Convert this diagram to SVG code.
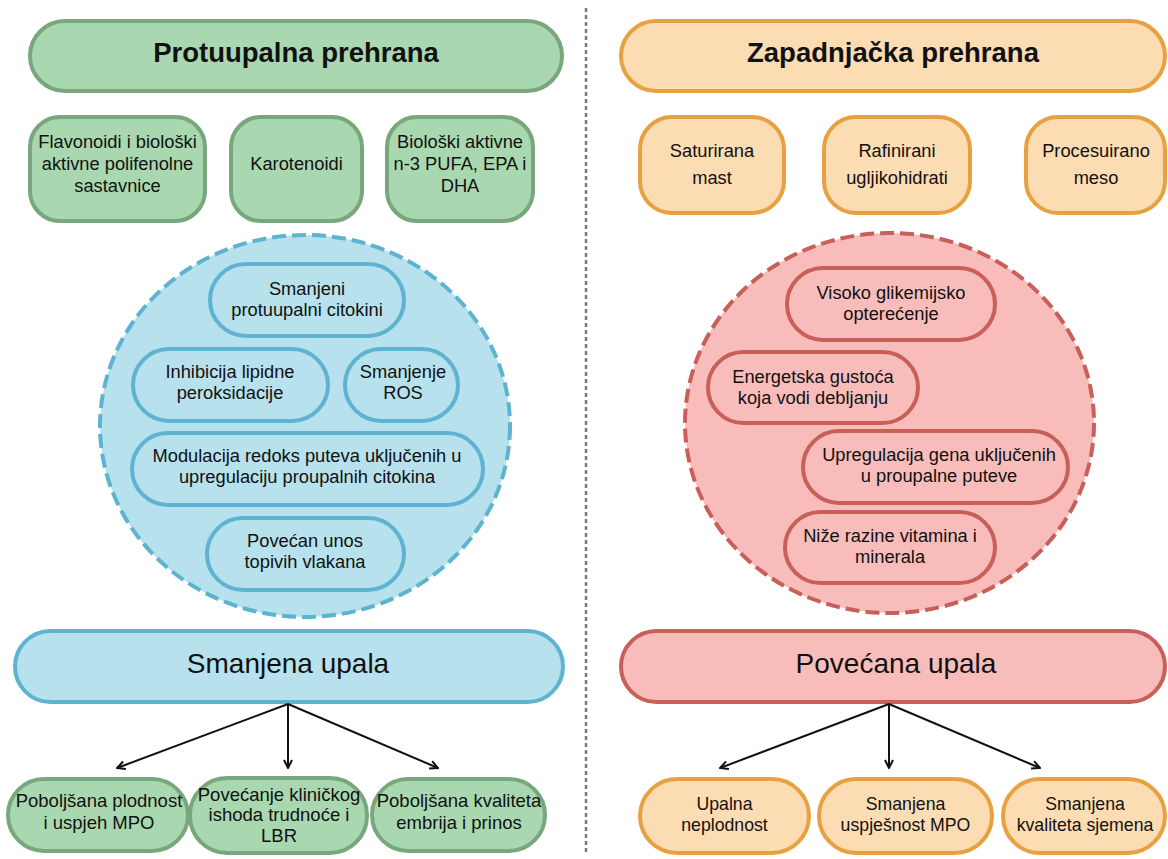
<svg xmlns="http://www.w3.org/2000/svg" width="1168" height="859" viewBox="0 0 1168 859">
<defs>
<style>
.t{font-family:"Liberation Sans",Arial,sans-serif;fill:#111;text-anchor:middle}
.h{font-weight:bold;font-size:27.5px}
.m{font-size:18.3px}
.s{font-size:17.7px}
.l{font-size:18.5px}
.big{font-size:28px}
.g{fill:#a9d8b0;stroke:#78a67d;stroke-width:4}
.o{fill:#fbdcb3;stroke:#e8a140;stroke-width:4}
.b{fill:#b7e1ed;stroke:#5db3d0;stroke-width:4}
.r{fill:#f8bdbb;stroke:#c95f59;stroke-width:4}
.d{stroke-dasharray:14 6}
.c{stroke:#111;stroke-width:2;fill:none}
</style>
<marker id="ah" viewBox="0 0 10 10" refX="9" refY="5" markerWidth="10" markerHeight="10" markerUnits="userSpaceOnUse" orient="auto">
<path d="M1,1 L9,5 L1,9" fill="none" stroke="#111" stroke-width="2"/>
</marker>
</defs>
<rect width="1168" height="859" fill="#fff"/>
<line x1="586" y1="8" x2="586" y2="855" stroke="#7a7a7a" stroke-width="2.5" stroke-dasharray="4 3"/>

<g id="title-left"><rect class="g" x="30" y="21" width="532" height="70" rx="35"/><text class="t h" x="296" y="62">Protuupalna prehrana</text></g>
<g id="title-right"><rect class="o" x="621" y="21" width="544" height="70" rx="35"/><text class="t h" x="893" y="62">Zapadnjačka prehrana</text></g>

<g id="flavonoidi"><rect class="g" x="30" y="117" width="175" height="104" rx="30"/><text class="t m"><tspan x="117.5" y="148">Flavonoidi i biološki</tspan><tspan x="117.5" y="170">aktivne polifenolne</tspan><tspan x="117.5" y="192">sastavnice</tspan></text></g>
<g id="karotenoidi"><rect class="g" x="231" y="117" width="131" height="104" rx="30"/><text class="t m" x="296.5" y="170">Karotenoidi</text></g>
<g id="pufa"><rect class="g" x="387" y="117" width="146" height="104" rx="30"/><text class="t m"><tspan x="460" y="148">Biološki aktivne</tspan><tspan x="460" y="170">n-3 PUFA, EPA i</tspan><tspan x="460" y="192">DHA</tspan></text></g>

<g id="saturirana"><rect class="o" x="640" y="117" width="144" height="96" rx="32"/><text class="t m"><tspan x="712" y="157">Saturirana</tspan><tspan x="712" y="184">mast</tspan></text></g>
<g id="rafinirani"><rect class="o" x="824" y="117" width="146" height="96" rx="32"/><text class="t m"><tspan x="897" y="157">Rafinirani</tspan><tspan x="897" y="184">ugljikohidrati</tspan></text></g>
<g id="procesuirano"><rect class="o" x="1026" y="117" width="139" height="96" rx="32"/><text class="t m"><tspan x="1096" y="157">Procesuirano</tspan><tspan x="1096" y="184">meso</tspan></text></g>

<g id="circle-left"><ellipse class="b d" cx="305" cy="426" rx="205" ry="191"/></g>
<g id="smanjeni"><rect class="b" x="210" y="264" width="194" height="72" rx="36"/><text class="t m"><tspan x="307" y="295">Smanjeni</tspan><tspan x="307" y="316">protuupalni citokini</tspan></text></g>
<g id="inhibicija"><rect class="b" x="133" y="349" width="195" height="72" rx="36"/><text class="t m"><tspan x="230" y="378">Inhibicija lipidne</tspan><tspan x="230" y="399">peroksidacije</tspan></text></g>
<g id="ros"><rect class="b" x="345" y="349" width="113" height="72" rx="36"/><text class="t m"><tspan x="403" y="378">Smanjenje</tspan><tspan x="403" y="399">ROS</tspan></text></g>
<g id="modulacija"><rect class="b" x="132" y="433" width="351" height="72" rx="36"/><text class="t m"><tspan x="307" y="462">Modulacija redoks puteva uključenih u</tspan><tspan x="307" y="483">upregulaciju proupalnih citokina</tspan></text></g>
<g id="povecan"><rect class="b" x="207" y="518" width="197" height="72" rx="36"/><text class="t m"><tspan x="305" y="547">Povećan unos</tspan><tspan x="305" y="568">topivih vlakana</tspan></text></g>

<g id="circle-right"><ellipse class="r d" cx="889.5" cy="423" rx="204.5" ry="190"/></g>
<g id="visoko"><rect class="r" x="787" y="268" width="208" height="72" rx="36"/><text class="t m"><tspan x="891" y="299">Visoko glikemijsko</tspan><tspan x="891" y="320">opterećenje</tspan></text></g>
<g id="energetska"><rect class="r" x="708" y="352" width="210" height="71" rx="35.5"/><text class="t m"><tspan x="813" y="383">Energetska gustoća</tspan><tspan x="813" y="404">koja vodi debljanju</tspan></text></g>
<g id="upregulacija"><rect class="r" x="803" y="431" width="265" height="72" rx="36"/><text class="t m"><tspan x="939" y="461">Upregulacija gena uključenih</tspan><tspan x="939" y="482">u proupalne puteve</tspan></text></g>
<g id="nize"><rect class="r" x="785" y="512" width="210" height="71" rx="35.5"/><text class="t m"><tspan x="890" y="542">Niže razine vitamina i</tspan><tspan x="890" y="563">minerala</tspan></text></g>

<g id="smanjena-upala"><rect class="b" x="15" y="631" width="548" height="71" rx="35.5"/><text class="t big" x="288" y="673">Smanjena upala</text></g>
<g id="povecana-upala"><rect class="r" x="621" y="631" width="544" height="71" rx="35.5"/><text class="t big" x="896" y="673">Povećana upala</text></g>

<g id="connectors">
<line class="c" x1="288" y1="704" x2="117" y2="768" marker-end="url(#ah)"/>
<line class="c" x1="288" y1="704" x2="288" y2="768" marker-end="url(#ah)"/>
<line class="c" x1="288" y1="704" x2="438" y2="768" marker-end="url(#ah)"/>
<line class="c" x1="889" y1="704" x2="720" y2="768" marker-end="url(#ah)"/>
<line class="c" x1="889" y1="704" x2="889" y2="768" marker-end="url(#ah)"/>
<line class="c" x1="889" y1="704" x2="1040" y2="768" marker-end="url(#ah)"/>
</g>

<g id="plodnost"><rect class="g" x="8" y="779" width="180" height="72" rx="36"/><text class="t l"><tspan x="99" y="807">Poboljšana plodnost</tspan><tspan x="99" y="829">i uspjeh MPO</tspan></text></g>
<g id="klinicki"><rect class="g" x="190" y="778" width="177" height="75" rx="37"/><text class="t l"><tspan x="279" y="801">Povećanje kliničkog</tspan><tspan x="279" y="821">ishoda trudnoće i</tspan><tspan x="279" y="842">LBR</tspan></text></g>
<g id="embrij"><rect class="g" x="372" y="779" width="173" height="72" rx="36"/><text class="t l"><tspan x="459" y="807">Poboljšana kvaliteta</tspan><tspan x="459" y="829">embrija i prinos</tspan></text></g>

<g id="neplodnost"><rect class="o" x="640" y="779" width="169" height="74" rx="37"/><text class="t s"><tspan x="724.5" y="810">Upalna</tspan><tspan x="724.5" y="831">neplodnost</tspan></text></g>
<g id="uspjesnost"><rect class="o" x="819" y="779" width="173" height="74" rx="37"/><text class="t s"><tspan x="905.5" y="810">Smanjena</tspan><tspan x="905.5" y="831">uspješnost MPO</tspan></text></g>
<g id="sjemena"><rect class="o" x="1003" y="779" width="162" height="74" rx="37"/><text class="t s"><tspan x="1085" y="810">Smanjena</tspan><tspan x="1085" y="831">kvaliteta sjemena</tspan></text></g>
</svg>
